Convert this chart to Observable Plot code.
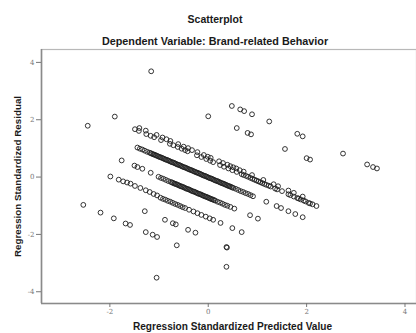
<!DOCTYPE html>
<html><head><meta charset="utf-8">
<script src="https://cdn.jsdelivr.net/npm/d3@7"></script>
<script src="https://cdn.jsdelivr.net/npm/@observablehq/plot@0.6"></script>
<style>
body{margin:0;background:#fff}
#c{position:relative;width:416px;height:333px;overflow:hidden;font-family:"Liberation Sans",Arial,sans-serif}
.t{position:absolute;z-index:2;left:7px;width:416px;text-align:center;font-weight:bold;color:#1a1a1a;line-height:12px;white-space:nowrap}
#plot{position:absolute;z-index:1;top:46px;left:0}
</style></head>
<body>
<div id="c">
<div id="plot"></div>
<div class="t" style="top:13px;font-size:10.5px">Scatterplot</div>
<div class="t" style="top:35px;font-size:10.8px">Dependent Variable: Brand-related Behavior</div>
</div>
<script>
const title = "Scatterplot";
const xLabel = "Regression Standardized Predicted Value";
const yLabel = "Regression Standardized Residual";
const xTicks = [-2, 0, 2, 4];
const yTicks = [-4, -2, 0, 2, 4];

// [predicted, residual] pairs, grouped by diagonal band
const bandZ = [[-1.16,3.69],[0.48,2.48],[0.65,2.36],[0.73,2.30],[0.89,2.19],[1.24,1.94],[1.81,1.51],[1.92,1.42],[2.74,0.82],[3.23,0.44],[3.35,0.35],[3.43,0.30]];
const bandY = [[0.00,2.12],[0.58,1.71],[0.80,1.54],[0.87,1.49],[1.56,0.98],[2.00,0.66],[2.07,0.61]];
const band1 = [[-1.49,1.67],[-1.41,1.61],[-1.26,1.50],[-1.17,1.44],[-1.10,1.39],[-0.96,1.29],[-0.78,1.16],[-0.71,1.11],[-0.62,1.05],[-0.54,0.99],[-0.47,0.94],[-0.42,0.90],[-0.23,0.76],[-0.14,0.70],[-0.04,0.63],[0.04,0.57],[0.10,0.52],[0.24,0.42],[0.32,0.36],[0.41,0.30],[0.49,0.24],[0.58,0.18],[0.68,0.10],[0.72,0.07],[0.77,0.04],[0.81,0.01],[0.86,-0.03],[0.90,-0.06],[0.94,-0.09],[0.98,-0.12],[1.02,-0.15],[1.06,-0.18],[1.10,-0.21],[1.14,-0.24],[1.18,-0.27],[1.23,-0.30],[1.27,-0.33],[1.36,-0.40],[1.40,-0.43],[1.50,-0.49],[1.63,-0.60],[1.67,-0.63],[1.74,-0.68],[1.81,-0.73],[1.84,-0.75],[1.88,-0.78],[1.94,-0.82],[1.98,-0.85],[2.04,-0.90],[2.07,-0.92],[2.12,-0.95],[2.20,-1.01]];
const band2 = [[-1.90,2.11],[-1.40,1.71],[-1.27,1.62],[-1.05,1.47],[-0.93,1.38],[-0.85,1.32],[-0.77,1.26],[-0.61,1.15],[-0.50,1.06],[-0.41,1.01],[-0.33,0.94],[-0.22,0.87],[-0.09,0.77],[-0.01,0.71],[0.05,0.67],[0.22,0.55],[0.30,0.49],[0.39,0.43],[0.45,0.38],[0.51,0.34],[0.57,0.30],[0.64,0.24],[0.72,0.19],[0.89,0.07],[1.12,-0.10],[1.33,-0.25],[1.42,-0.32],[1.63,-0.47],[1.74,-0.55],[1.92,-0.68]];
const band3 = [[-2.45,1.79],[-1.44,1.03],[-1.39,0.99],[-1.34,0.96],[-1.29,0.92],[-1.24,0.88],[-1.19,0.85],[-1.14,0.81],[-1.09,0.78],[-1.04,0.74],[-0.99,0.70],[-0.94,0.67],[-0.89,0.63],[-0.84,0.60],[-0.79,0.56],[-0.74,0.52],[-0.69,0.49],[-0.64,0.45],[-0.59,0.42],[-0.54,0.38],[-0.49,0.34],[-0.44,0.31],[-0.39,0.27],[-0.34,0.24],[-0.29,0.20],[-0.24,0.16],[-0.19,0.13],[-0.14,0.09],[-0.09,0.05],[-0.04,0.02],[0.01,-0.02],[0.06,-0.05],[0.11,-0.09],[0.16,-0.13],[0.21,-0.16],[0.26,-0.20],[0.31,-0.23],[0.36,-0.27],[0.41,-0.31],[0.46,-0.34],[0.51,-0.38],[0.56,-0.41],[0.61,-0.45],[0.66,-0.49],[0.71,-0.52],[0.76,-0.56],[0.81,-0.59],[0.86,-0.63],[0.91,-0.67],[1.18,-0.86],[1.39,-1.01],[1.48,-1.08],[1.63,-1.19],[1.77,-1.29],[1.92,-1.40]];
const band3dense = [[-1.165,0.83],[-1.115,0.79],[-1.065,0.76],[-1.015,0.72],[-0.965,0.69],[-0.915,0.65],[-0.865,0.61],[-0.815,0.58],[-0.765,0.54],[-0.715,0.51],[-0.665,0.47],[-0.615,0.43],[-0.565,0.40],[-0.515,0.36],[-0.465,0.33],[-0.415,0.29],[-0.365,0.25],[-0.315,0.22],[-0.265,0.18],[-0.215,0.15],[-0.165,0.11],[-0.115,0.07],[-0.065,0.04],[-0.015,0.00],[0.035,-0.04],[0.085,-0.07],[0.135,-0.11],[0.185,-0.14],[0.235,-0.18],[0.285,-0.22],[0.335,-0.25],[0.385,-0.29],[0.435,-0.32],[0.485,-0.36]];
const band4 = [[-1.76,0.58],[-1.50,0.40],[-1.44,0.35],[-1.34,0.29],[-1.17,0.15],[-1.01,0.01],[-0.96,-0.03],[-0.91,-0.06],[-0.86,-0.10],[-0.81,-0.14],[-0.76,-0.17],[-0.71,-0.21],[-0.66,-0.24],[-0.61,-0.28],[-0.56,-0.32],[-0.51,-0.35],[-0.46,-0.39],[-0.41,-0.42],[-0.36,-0.46],[-0.31,-0.50],[-0.26,-0.53],[-0.21,-0.57],[-0.16,-0.60],[-0.11,-0.64],[-0.06,-0.68],[-0.01,-0.71],[0.04,-0.75],[0.09,-0.78],[0.14,-0.82],[0.19,-0.86],[0.24,-0.89],[0.29,-0.93],[0.34,-0.97],[0.39,-1.00],[0.45,-1.04],[0.53,-1.10],[0.85,-1.33],[1.01,-1.45]];
const band4dense = [[-0.735,-0.19],[-0.685,-0.23],[-0.635,-0.26],[-0.585,-0.30],[-0.535,-0.33],[-0.485,-0.37],[-0.435,-0.41],[-0.385,-0.44],[-0.335,-0.48],[-0.285,-0.51],[-0.235,-0.55],[-0.185,-0.59],[-0.135,-0.62],[-0.085,-0.66],[-0.035,-0.69],[0.015,-0.73],[0.065,-0.77],[0.115,-0.80]];
const band5 = [[-1.99,0.02],[-1.82,-0.09],[-1.73,-0.15],[-1.65,-0.19],[-1.58,-0.23],[-1.49,-0.31],[-1.38,-0.38],[-1.27,-0.46],[-1.19,-0.52],[-1.11,-0.59],[-1.04,-0.64],[-0.97,-0.72],[-0.92,-0.76],[-0.87,-0.79],[-0.82,-0.83],[-0.77,-0.86],[-0.72,-0.90],[-0.67,-0.94],[-0.62,-0.97],[-0.57,-1.01],[-0.52,-1.05],[-0.47,-1.08],[-0.39,-1.14],[-0.30,-1.20],[-0.22,-1.26],[-0.14,-1.32],[-0.05,-1.38],[0.03,-1.44],[0.10,-1.49],[0.25,-1.60],[0.49,-1.78],[0.68,-1.92]];
const band6 = [[-1.29,-1.19],[-0.88,-1.49],[-0.72,-1.61],[-0.66,-1.65],[-0.41,-1.84],[-0.26,-1.94],[0.37,-2.44],[0.38,-2.46]];
const band7 = [[-2.54,-0.97],[-2.19,-1.24],[-1.92,-1.44],[-1.68,-1.62],[-1.59,-1.67],[-1.27,-1.92],[-1.13,-2.01],[-1.04,-2.09],[-0.64,-2.38],[0.37,-3.13]];
const band8 = [[-1.05,-3.51]];

const points = [...bandZ, ...bandY, ...band1, ...band2, ...band3, ...band3dense, ...band4, ...band4dense, ...band5, ...band6, ...band7, ...band8];
const xDomain = [-3.39, 4.234];
const yDomain = [-4.41, 4.45];

const chart = Plot.plot({
  width: 416, height: 287,
  marginTop: 3, marginBottom: 30, marginLeft: 41, marginRight: 0,
  style: {fontFamily: "'Liberation Sans', Arial, sans-serif", background: "transparent", color: "#1a1a1a"},
  x: {domain: xDomain},
  y: {domain: yDomain},
  marks: [
    Plot.frame({stroke: "#b8b8b8", strokeWidth: 1.2}),
    Plot.ruleX([xDomain[0]], {stroke: "#8a8a8a", strokeWidth: 1.6}),
    Plot.ruleY([yDomain[0]], {stroke: "#8a8a8a", strokeWidth: 1.6}),
    Plot.dot(points, {x: d => d[0], y: d => d[1], r: 2.4, stroke: "#1e1e1e", strokeWidth: 0.9, fill: "none"}),
    Plot.axisX({ticks: xTicks, tickSize: 4, tickPadding: 2, tickFormat: d => String(d), fontSize: 7, color: "#777", label: null, fontFamily: "'DejaVu Serif', serif"}),
    Plot.axisY({ticks: yTicks, tickSize: 5, tickPadding: 2, tickFormat: d => String(d), fontSize: 7, color: "#777", label: null, fontFamily: "'DejaVu Serif', serif"}),
    Plot.text([xLabel], {frameAnchor: "bottom", dx: 3.5, dy: 23.2, lineAnchor: "middle", textAnchor: "middle", fontWeight: "bold", fontSize: 10.1, fill: "#1a1a1a"}),
    Plot.text([yLabel], {frameAnchor: "left", dx: -23.5, rotate: -90, textAnchor: "middle", lineAnchor: "middle", fontWeight: "bold", fontSize: 9.8, fill: "#1a1a1a"})
  ]
});
document.getElementById("plot").appendChild(chart);
</script>
</body></html>
